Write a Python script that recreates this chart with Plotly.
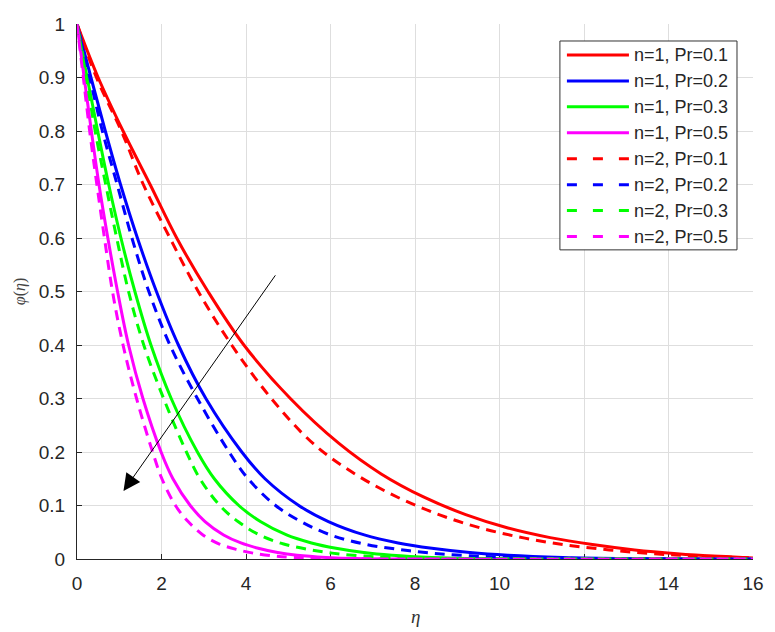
import plotly.graph_objects as go

# ---------------- data ----------------
eta_n1_pr01 = [0, 0.5, 1.09, 1.73, 2.36, 3.1, 3.95, 5.05, 6.2, 7.2, 8.2, 9.2, 10.2, 11.2, 12.2, 13.2, 14.2, 15.2, 16]
phi_n1_pr01 = [1, 0.9, 0.8, 0.7, 0.6, 0.5, 0.4, 0.3, 0.216, 0.159, 0.116, 0.083, 0.058, 0.04, 0.027, 0.017, 0.01, 0.005, 0.002]

eta_n1_pr02 = [0, 0.33, 0.67, 1.03, 1.43, 1.88, 2.4, 3.05, 3.9, 4.45, 5.25, 5.95, 6.8, 7.6, 8.4, 9.3, 10.2, 11.5, 13, 16]
phi_n1_pr02 = [1, 0.9, 0.8, 0.7, 0.6, 0.5, 0.4, 0.3, 0.2, 0.15, 0.1, 0.07, 0.045, 0.03, 0.02, 0.012, 0.007, 0.003, 0.001, 0]

eta_n1_pr03 = [0, 0.24, 0.49, 0.75, 1.04, 1.37, 1.75, 2.23, 2.85, 3.25, 3.83, 4.34, 4.96, 5.55, 6.13, 6.79, 7.45, 8.4, 9.5, 16]
phi_n1_pr03 = [1, 0.9, 0.8, 0.7, 0.6, 0.5, 0.4, 0.3, 0.2, 0.15, 0.1, 0.07, 0.045, 0.03, 0.02, 0.012, 0.007, 0.003, 0.001, 0]

eta_n1_pr05 = [0, 0.17, 0.34, 0.52, 0.73, 0.96, 1.22, 1.56, 1.99, 2.27, 2.68, 3.03, 3.47, 3.88, 4.29, 4.75, 5.21, 5.9, 6.6, 16]
phi_n1_pr05 = [1, 0.9, 0.8, 0.7, 0.6, 0.5, 0.4, 0.3, 0.2, 0.15, 0.1, 0.07, 0.045, 0.03, 0.02, 0.012, 0.007, 0.003, 0.001, 0]

eta_n2_pr01 = [0, 0.46, 1.05, 1.57, 2.2, 2.87, 3.66, 4.6, 5.6, 6.6, 7.6, 8.6, 9.6, 10.6, 11.6, 12.6, 13.6, 14.6, 16]
phi_n2_pr01 = [1, 0.9, 0.8, 0.7, 0.6, 0.5, 0.4, 0.3, 0.215, 0.158, 0.115, 0.082, 0.057, 0.039, 0.026, 0.017, 0.01, 0.006, 0.002]

eta_n2_pr02 = [0, 0.3, 0.6, 0.95, 1.3, 1.7, 2.2, 2.85, 3.6, 4.05, 4.7, 5.3, 6.0, 6.8, 7.6, 8.4, 9.3, 10.3, 12, 16]
phi_n2_pr02 = [1, 0.9, 0.8, 0.7, 0.6, 0.5, 0.4, 0.3, 0.2, 0.15, 0.1, 0.07, 0.045, 0.028, 0.018, 0.011, 0.006, 0.003, 0.001, 0]

eta_n2_pr03 = [0, 0.22, 0.43, 0.68, 0.94, 1.22, 1.58, 2.05, 2.59, 2.91, 3.38, 3.81, 4.32, 4.89, 5.47, 6.04, 6.69, 7.4, 8.6, 16]
phi_n2_pr03 = [1, 0.9, 0.8, 0.7, 0.6, 0.5, 0.4, 0.3, 0.2, 0.15, 0.1, 0.07, 0.045, 0.028, 0.018, 0.011, 0.006, 0.003, 0.001, 0]

eta_n2_pr05 = [0, 0.15, 0.30, 0.47, 0.65, 0.84, 1.09, 1.41, 1.79, 2.01, 2.33, 2.63, 2.98, 3.37, 3.77, 4.17, 4.61, 5.1, 5.9, 16]
phi_n2_pr05 = [1, 0.9, 0.8, 0.7, 0.6, 0.5, 0.4, 0.3, 0.2, 0.15, 0.1, 0.07, 0.045, 0.028, 0.018, 0.011, 0.006, 0.003, 0.001, 0]

series_names = ["n=1, Pr=0.1", "n=1, Pr=0.2", "n=1, Pr=0.3", "n=1, Pr=0.5",
                "n=2, Pr=0.1", "n=2, Pr=0.2", "n=2, Pr=0.3", "n=2, Pr=0.5"]
series_eta = [eta_n1_pr01, eta_n1_pr02, eta_n1_pr03, eta_n1_pr05,
              eta_n2_pr01, eta_n2_pr02, eta_n2_pr03, eta_n2_pr05]
series_phi = [phi_n1_pr01, phi_n1_pr02, phi_n1_pr03, phi_n1_pr05,
              phi_n2_pr01, phi_n2_pr02, phi_n2_pr03, phi_n2_pr05]

x_ticks = [0, 2, 4, 6, 8, 10, 12, 14, 16]
y_ticks = [0, 0.1, 0.2, 0.3, 0.4, 0.5, 0.6, 0.7, 0.8, 0.9, 1]
y_ticklabels = ["0", "0.1", "0.2", "0.3", "0.4", "0.5", "0.6", "0.7", "0.8", "0.9", "1"]

arrow_tail = (4.72, 0.533)
arrow_head = (1.1, 0.127)

# ---------------- styles ----------------
colors = ["#ff0000", "#0000ff", "#00ff00", "#ff00ff"] * 2
dashes = ["solid"] * 4 + ["10px,7px"] * 4
legend_dashes = ["solid"] * 4 + ["10px,16px"] * 4

W, H = 775, 632
L, R, T, B = 77.3, 753.0, 24.0, 559.3
TXT = "#262626"

def px_x(px):
    return (px - L) / (R - L)

def px_y(py):
    return (B - py) / (B - T)

fig = go.Figure()
for name, ex, ph, c, d in zip(series_names, series_eta, series_phi, colors, dashes):
    fig.add_trace(go.Scatter(x=ex, y=ph, mode="lines", name=name,
                             line=dict(color=c, width=3, dash=d, shape="spline", smoothing=1.0),
                             showlegend=False))

shapes = []
annotations = []

# manual legend (MATLAB-like)
shapes.append(dict(type="rect", xref="paper", yref="paper",
                   x0=px_x(560), x1=px_x(737), y0=px_y(250), y1=px_y(41),
                   line=dict(color="#333333", width=1), fillcolor="white", layer="above"))
row0, rowgap = 55.0, 25.95
for i, name in enumerate(series_names):
    yy = px_y(row0 + i * rowgap)
    shapes.append(dict(type="line", xref="paper", yref="paper",
                       x0=px_x(567), x1=px_x(629), y0=yy, y1=yy,
                       line=dict(color=colors[i], width=3, dash=legend_dashes[i]), layer="above"))
    annotations.append(dict(xref="paper", yref="paper", x=px_x(632), y=yy,
                            xanchor="left", yanchor="middle", showarrow=False,
                            text=name, font=dict(family="Liberation Sans, Arial", size=18, color=TXT)))

# arrow
annotations.append(dict(xref="x", yref="y", axref="x", ayref="y",
                        x=arrow_head[0], y=arrow_head[1], ax=arrow_tail[0], ay=arrow_tail[1],
                        showarrow=True, arrowhead=2, arrowsize=3.4, arrowwidth=1,
                        arrowcolor="black", text=""))

# axis titles
annotations.append(dict(xref="paper", yref="paper", x=0.5, y=px_y(616.7),
                        xanchor="center", yanchor="middle", showarrow=False,
                        text="<i>η</i>", font=dict(family="Liberation Serif, Times New Roman", size=19, color="#333333")))
annotations.append(dict(xref="paper", yref="paper", x=px_x(20), y=0.5,
                        xanchor="center", yanchor="middle", showarrow=False, textangle=-90,
                        text="<i>φ</i>(<i>η</i>)", font=dict(family="Liberation Serif, Times New Roman", size=16, color="#444444")))

fig.update_layout(
    width=W, height=H,
    margin=dict(l=L, r=W - R, t=T, b=H - B, pad=0),
    paper_bgcolor="white", plot_bgcolor="white",
    shapes=shapes, annotations=annotations,
    showlegend=False,
    font=dict(family="Liberation Sans, Arial", size=19, color=TXT),
)
fig.update_xaxes(range=[0, 16], tickvals=x_ticks, ticktext=[str(v) for v in x_ticks],
                 showgrid=True, gridcolor="#dedede", gridwidth=1,
                 showline=True, linecolor=TXT, linewidth=1, zeroline=False,
                 ticks="inside", ticklen=5, tickcolor=TXT, layer="below traces",
                 tickfont=dict(size=19, color=TXT), ticklabelstandoff=7)
fig.update_yaxes(range=[0, 1], tickvals=y_ticks, ticktext=y_ticklabels,
                 showgrid=True, gridcolor="#dedede", gridwidth=1,
                 showline=True, linecolor=TXT, linewidth=1, zeroline=False,
                 ticks="inside", ticklen=5, tickcolor=TXT, layer="below traces",
                 tickfont=dict(size=19, color=TXT), ticklabelstandoff=7)

fig.write_html("out.html")
